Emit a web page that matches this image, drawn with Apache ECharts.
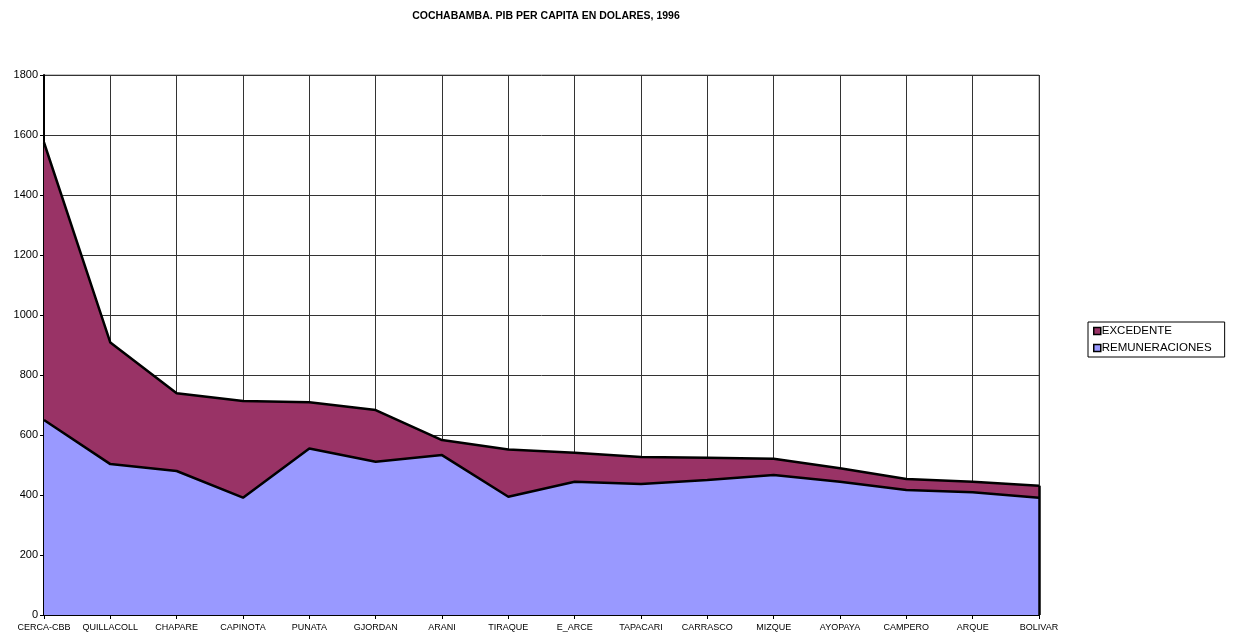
<!DOCTYPE html>
<html>
<head>
<meta charset="utf-8">
<script src="https://cdn.jsdelivr.net/npm/echarts@6/dist/echarts.min.js"></script>
<style>html,body{margin:0;padding:0;background:#fff}#c{width:1233px;height:637px}</style>
</head>
<body>
<div id="c"></div>
<script>
const categories = ['CERCA-CBB','QUILLACOLL','CHAPARE','CAPINOTA','PUNATA','GJORDAN','ARANI','TIRAQUE','E_ARCE','TAPACARI','CARRASCO','MIZQUE','AYOPAYA','CAMPERO','ARQUE','BOLIVAR'];
const remuneraciones = [650, 503, 480, 391, 555, 511, 533, 394, 444, 437, 450, 467, 444, 417, 409, 391];
const excedente = [925, 405, 259, 322, 154, 172, 50, 158, 97, 90, 74, 54, 45, 36, 35, 40];
const yTicks = [0, 200, 400, 600, 800, 1000, 1200, 1400, 1600, 1800];

const last = categories.length - 1;
const lastTotal = remuneraciones[last] + excedente[last];

const chart = echarts.init(document.getElementById('c'));
chart.setOption({
  animation: false,
  backgroundColor: '#fff',
  title: {
    text: 'COCHABAMBA. PIB PER CAPITA EN DOLARES, 1996',
    left: 541, top: 6, textAlign: 'center',
    textStyle: { fontFamily: 'Liberation Sans, Arial', fontSize: 10.5, fontWeight: 'bold', color: '#000' }
  },
  legend: {
    orient: 'vertical',
    left: 1088, top: 322,
    padding: [3, 13, 3, 5],
    borderColor: '#000', borderWidth: 1,
    itemWidth: 7, itemHeight: 7, itemGap: 5,
    icon: 'rect',
    data: [
      { name: 'EXCEDENTE', itemStyle: { color: '#993366', borderColor: '#000', borderWidth: 1.5 } },
      { name: 'REMUNERACIONES', itemStyle: { color: '#9999FF', borderColor: '#000', borderWidth: 1.5 } }
    ],
    textStyle: { fontFamily: 'Liberation Sans, Arial', fontSize: 11.5, color: '#000', padding: [0, 0, 0, -4] }
  },
  grid: { left: 44, right: 194, top: 75, bottom: 22, show: true, borderColor: '#888', borderWidth: 1 },
  xAxis: {
    type: 'category',
    data: categories,
    boundaryGap: false,
    axisLine: { lineStyle: { color: '#000', width: 2 } },
    axisTick: { show: true, length: 4, lineStyle: { color: '#000' } },
    axisLabel: { interval: 0, fontFamily: 'Liberation Sans, Arial', fontSize: 9, color: '#000', margin: 8 },
    splitLine: { show: true, lineStyle: { color: '#333', width: 1 } }
  },
  yAxis: {
    type: 'value',
    min: yTicks[0], max: yTicks[yTicks.length - 1], interval: 200,
    axisLine: { show: true, lineStyle: { color: '#000', width: 2 } },
    axisTick: { show: true, length: 4, lineStyle: { color: '#000' } },
    axisLabel: { fontFamily: 'Liberation Sans, Arial', fontSize: 11, color: '#000', margin: 6, formatter: v => String(v) },
    splitLine: { show: true, lineStyle: { color: '#333', width: 1 } }
  },
  series: [
    {
      name: 'REMUNERACIONES', type: 'line', stack: 'total', data: remuneraciones,
      symbol: 'none', z: 3,
      lineStyle: { color: '#000', width: 2.5 },
      itemStyle: { color: '#9999FF' },
      areaStyle: { color: '#9999FF', opacity: 1 }
    },
    {
      name: 'EXCEDENTE', type: 'line', stack: 'total', data: excedente,
      symbol: 'none', z: 2,
      lineStyle: { color: '#000', width: 2.5 },
      itemStyle: { color: '#993366' },
      areaStyle: { color: '#993366', opacity: 1 },
      markLine: {
        silent: true, symbol: 'none', label: { show: false },
        lineStyle: { color: '#000', width: 2.5, type: 'solid' },
        data: [[ { coord: [categories[last], 0] }, { coord: [categories[last], lastTotal] } ]]
      }
    }
  ]
});
</script>
</body>
</html>
